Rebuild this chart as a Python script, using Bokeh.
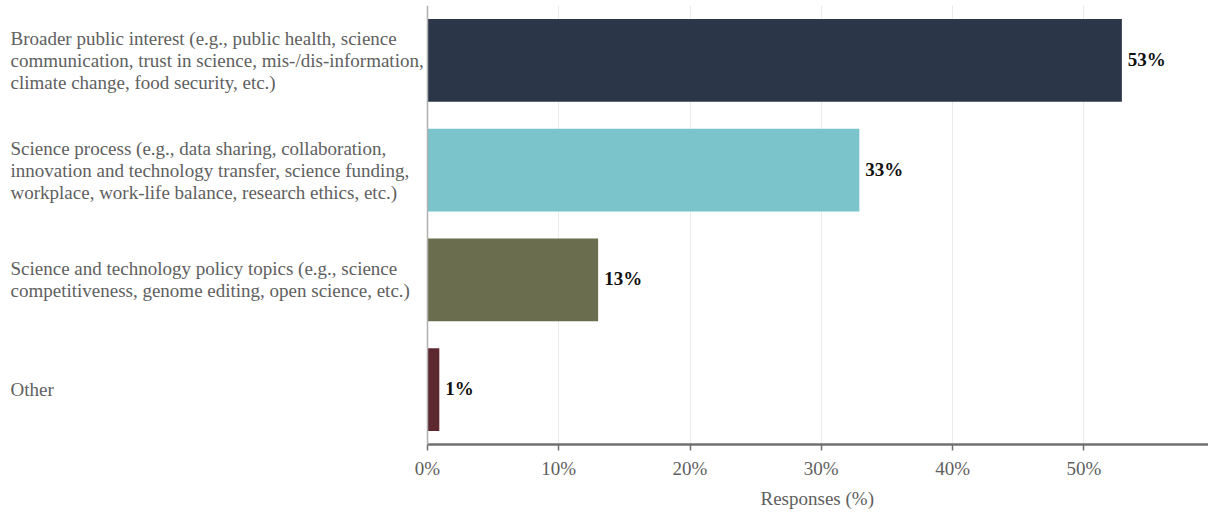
from bokeh.plotting import figure
from bokeh.models import Range1d, FixedTicker, Span, ColumnDataSource, Title
from bokeh.core.properties import value
from bokeh.embed import file_html
from bokeh.resources import INLINE

categories = [
    "Broader public interest (e.g., public health, science\ncommunication, trust in science, mis-/dis-information,\nclimate change, food security, etc.)",
    "Science process (e.g., data sharing, collaboration,\ninnovation and technology transfer, science funding,\nworkplace, work-life balance, research ethics, etc.)",
    "Science and technology policy topics (e.g., science\ncompetitiveness, genome editing, open science, etc.)",
    "Other",
]
values = [52.9, 32.9, 13.0, 0.9]
value_labels = ["53%", "33%", "13%", "1%"]
colors = ["#2b3748", "#7bc4cb", "#6b6e4e", "#5e2830"]
x_ticks = [0, 10, 20, 30, 40, 50]
x_tick_labels = ["0%", "10%", "20%", "30%", "40%", "50%"]
x_title = "Responses (%)"

FONT = "Liberation Serif"
FS = "19px"
GREY = "#606060"
W, H = 1208, 512
LEFT_PX = 427          # pixel position of the value axis origin
X_MAX = 59.5
x_start = -LEFT_PX * X_MAX / (W - LEFT_PX)

n = len(categories)
ys = [n - 1 - i for i in range(n)]

p = figure(width=W, height=H, output_backend="svg", toolbar_location=None,
           x_range=Range1d(x_start, X_MAX), y_range=Range1d(-0.5, n - 0.5),
           y_axis_location=None,
           min_border_left=0, min_border_right=0, min_border_top=5, min_border_bottom=68)
p.outline_line_color = None
p.background_fill_color = "white"

# category labels on the left
lsrc = ColumnDataSource(dict(x=[x_start] * n, y=ys, t=categories))
p.text(x="x", y="y", text="t", source=lsrc, x_offset=10, text_align="left",
       text_baseline="middle", text_font=value(FONT), text_font_size=FS,
       text_color=GREY, text_line_height=1.05)

src = ColumnDataSource(dict(y=ys, v=values, c=colors, t=value_labels))
p.hbar(y="y", right="v", left=0, height=0.755, fill_color="c", line_color=None, source=src)
p.text(x="v", y="y", text="t", source=src, x_offset=6, y_offset=-1, text_baseline="middle",
       text_align="left", text_font=value(FONT), text_font_size=FS,
       text_font_style="bold", text_color="#111111")

p.add_layout(Span(location=0, dimension="height", line_color="#b0b0b0", line_width=1.5))

# x axis
p.xaxis.bounds = (0, X_MAX)
p.xaxis.ticker = FixedTicker(ticks=x_ticks)
p.xaxis.major_label_overrides = {t: l for t, l in zip(x_ticks, x_tick_labels)}
p.xaxis.major_label_text_font = FONT
p.xaxis.major_label_text_font_size = FS
p.xaxis.major_label_text_color = GREY
p.xaxis.major_label_standoff = 7
p.xaxis.axis_line_color = "#707070"
p.xaxis.axis_line_width = 2.5
p.xaxis.major_tick_line_color = "#707070"
p.xaxis.major_tick_line_width = 1.5
p.xaxis.major_tick_in = 0
p.xaxis.major_tick_out = 6
p.xaxis.minor_tick_line_color = None

# axis title, centred under the value axis (not the whole frame)
p.add_layout(Title(text=x_title, align="left", offset=760, standoff=8,
                   text_font=FONT, text_font_size=FS, text_font_style="normal",
                   text_color=GREY), "below")

p.xgrid.ticker = FixedTicker(ticks=x_ticks)
p.xgrid.grid_line_color = "#ebebeb"
p.ygrid.grid_line_color = None

open("out.html", "w").write(file_html(p, INLINE))
